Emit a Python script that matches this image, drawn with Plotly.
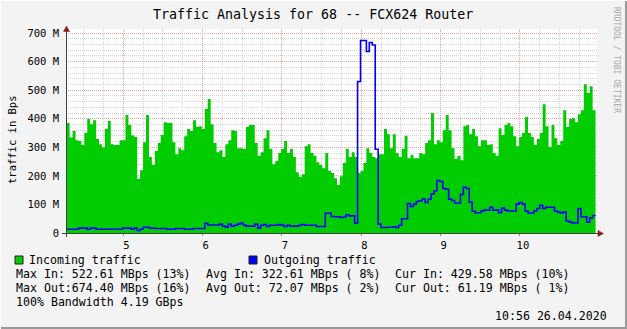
import plotly.graph_objects as go

# ---------------- data ----------------
START = 4.2865          # time of first sample (day units of the axis)
STEP = 1 / 27           # sample step in day units

incoming = [
    385, 334, 357, 325, 322, 308, 350, 399, 381, 395, 329, 311, 299, 364, 392, 311, 308, 308, 325, 325,
    413, 378, 341, 336, 190, 220, 318, 413, 266, 238, 287, 315, 343, 388, 385, 385, 318, 276, 297, 290,
    339, 364, 357, 395, 371, 374, 364,
    434, 469, 381, 315, 283, 290, 266, 311, 325, 360, 357, 297, 297, 294, 371, 378, 378, 315, 270, 283,
    332, 360, 294, 241, 252, 280, 294,
    322, 280, 294, 266, 213, 196, 206, 304, 311, 280, 270, 248, 238, 227, 280, 217, 210, 192, 168, 199,
    245, 294, 266, 283, 266, 210, 217,
    245, 297, 280, 266, 262, 276, 276, 364, 346, 297, 346, 280, 266, 294, 340, 262, 273, 262, 262, 280,
    276, 315, 325, 420, 311, 325, 318,
    360, 413, 360, 297, 259, 270, 255, 374, 378, 346, 364, 339, 304, 325, 325, 308, 311, 280, 270, 367,
    343, 378, 385, 374, 339, 304, 336,
    350, 406, 350, 336, 308, 329, 350, 451, 374, 301, 378, 332, 308, 322, 430, 371, 399, 402, 388, 416,
    430, 521, 490, 514, 430,
]

outgoing = [
    13, 13, 13, 13, 17, 17, 17, 13, 17, 17,
    13, 13, 13, 13, 13, 13, 13, 13, 13, 17,
    17, 17, 13, 17, 9, 13, 20, 20, 17, 17,
    16, 16, 16, 16, 13, 13, 13, 16, 16, 16,
    13, 13, 13, 16, 16, 16, 16, 34, 28, 28,
    28, 28, 31, 24, 20, 31, 24, 27, 31, 35,
    28, 24, 24, 24, 31, 17, 27, 30, 23, 27,
    27, 27, 30, 27, 23, 27, 24, 24, 24, 27,
    30, 27, 27, 27, 27, 23, 23, 23, 69, 69,
    58, 57, 57, 54, 56, 64, 60, 60, 34, 530,
    674, 674, 635, 667, 658, 293, 31, 19, 19, 20,
    20, 22, 19, 27, 50, 50, 103, 93, 101, 110,
    113, 119, 107, 118, 136, 148, 184, 180, 156, 153,
    118, 114, 105, 105, 135, 160, 156, 108, 76, 71,
    71, 77, 80, 80, 90, 80, 80, 71, 87, 80,
    77, 77, 77, 101, 107, 101, 77, 70, 70, 77,
    86, 97, 86, 90, 90, 90, 77, 73, 70, 73,
    42, 38, 35, 35, 86, 57, 57, 38, 53, 61,
]

x_tick_vals = [5, 6, 7, 8, 9, 10]
x_tick_text = ["5", "6", "7", "8", "9", "10"]
y_tick_vals = [0, 100, 200, 300, 400, 500, 600, 700]
y_tick_text = ["0", "100 M", "200 M", "300 M", "400 M", "500 M", "600 M", "700 M"]

title_text = "Traffic Analysis for 68 -- FCX624 Router"
y_title = "traffic in Bps"
legend_labels = ["Incoming traffic", "Outgoing traffic"]
stats_rows = [
    ["Max In: 522.61 MBps (13%)", "Avg In: 322.61 MBps ( 8%)", "Cur In: 429.58 MBps (10%)"],
    ["Max Out:674.40 MBps (16%)", "Avg Out: 72.07 MBps ( 2%)", "Cur Out: 61.19 MBps ( 1%)"],
]
bandwidth_text = "100% Bandwidth 4.19 GBps"
date_text = "10:56 26.04.2020"
watermark = "RRDTOOL / TOBI OETIKER"

# ---------------- geometry / style ----------------
W, H = 627, 329
L, R, T, B = 66, 30, 29, 96
PW, PH = W - L - R, H - T - B
PX_PER_DAY = 79.33
X_LEFT = 5 - (123.3 - L) / PX_PER_DAY
X_RIGHT = X_LEFT + PW / PX_PER_DAY
Y_TOP = 700 * PH / 200.0

FONT = "DejaVu Sans Mono"
GREEN = "#00CC00"
BLUE = "#0000FF"
MAJ = "#E6A0A0"
MIN = "#D4D4D4"
ARROW = "#8B1A1A"


def px(xp):
    return (xp - L) / PW


def py(yp):
    return (H - B - yp) / PH


def esc(s):
    return s.replace(" ", "\u00a0")


n = len(incoming)
xs = [START + i * STEP for i in range(n + 1)]
inc = incoming + [incoming[-1]]
out = outgoing + [outgoing[-1]]

fig = go.Figure()
fig.add_trace(go.Scatter(x=xs, y=inc, mode="lines", line=dict(shape="hv", width=0, color=GREEN),
                         fill="tozeroy", fillcolor=GREEN, hoverinfo="skip"))
fig.add_trace(go.Scatter(x=xs, y=out, mode="lines", line=dict(shape="hv", width=1.6, color=BLUE),
                         hoverinfo="skip"))

shapes = []
# axis lines
shapes.append(dict(type="line", xref="paper", yref="paper", x0=px(66.5), x1=px(66.5), y0=py(237), y1=py(30),
                   line=dict(color="#404040", width=1)))
shapes.append(dict(type="line", xref="paper", yref="paper", x0=px(62), x1=px(599), y0=py(233.5), y1=py(233.5),
                   line=dict(color="#404040", width=1)))
# arrows
shapes.append(dict(type="path", xref="paper", yref="paper",
                   path=f"M {px(63.5)},{py(31.5)} L {px(69.5)},{py(31.5)} L {px(66.5)},{py(26)} Z",
                   fillcolor=ARROW, line=dict(color=ARROW, width=0.5)))
shapes.append(dict(type="path", xref="paper", yref="paper",
                   path=f"M {px(598)},{py(230.5)} L {px(598)},{py(236.5)} L {px(603.5)},{py(233.5)} Z",
                   fillcolor=ARROW, line=dict(color=ARROW, width=0.5)))
# legend boxes
for x0, col in [(15, GREEN), (249, BLUE)]:
    shapes.append(dict(type="rect", xref="paper", yref="paper", x0=px(x0), x1=px(x0 + 8),
                       y0=py(264), y1=py(256), fillcolor=col, line=dict(color="#202020", width=1)))
# frame
shapes.append(dict(type="line", xref="paper", yref="paper", x0=px(0), x1=px(W), y0=py(H - 1), y1=py(H - 1),
                   line=dict(color="#9A9A9A", width=2)))
shapes.append(dict(type="line", xref="paper", yref="paper", x0=px(W - 1), x1=px(W - 1), y0=py(0), y1=py(H),
                   line=dict(color="#9A9A9A", width=2)))
shapes.append(dict(type="line", xref="paper", yref="paper", x0=px(0), x1=px(W), y0=py(0.5), y1=py(0.5),
                   line=dict(color="#FFFFFF", width=1)))
shapes.append(dict(type="line", xref="paper", yref="paper", x0=px(0.5), x1=px(0.5), y0=py(0), y1=py(H),
                   line=dict(color="#FFFFFF", width=1)))

ann = []


def text(x, y, s, size=11.6, xanchor="left", color="#000000", angle=0):
    ann.append(dict(x=px(x), y=py(y), xref="paper", yref="paper", text=esc(s), showarrow=False,
                    xanchor=xanchor, yanchor="middle", textangle=angle,
                    font=dict(family=FONT, size=size, color=color)))


text(313, 14, title_text, size=13.3, xanchor="center")
text(12, 140, y_title, size=10.5, xanchor="center", angle=-90)
text(617, 60, watermark, size=8, xanchor="center", color="#A8A8A8", angle=90)
text(27, 260, legend_labels[0])
text(262, 260, legend_labels[1])
row_y = [274, 288]
col_x = [14, 204, 393]
for yy, row in zip(row_y, stats_rows):
    for xx, s in zip(col_x, row):
        text(xx, yy, s)
text(14, 302, bandwidth_text)
text(609, 316, date_text, xanchor="right")

fig.update_layout(
    width=W, height=H,
    margin=dict(l=L, r=R, t=T, b=B, pad=0),
    paper_bgcolor="#F3F3F3",
    plot_bgcolor="#FFFFFF",
    showlegend=False,
    shapes=shapes,
    annotations=ann,
    xaxis=dict(range=[X_LEFT, X_RIGHT], tickmode="array", tickvals=x_tick_vals, ticktext=x_tick_text,
               showgrid=True, gridcolor=MAJ, griddash="1px,1px", gridwidth=1, zeroline=False, showline=False,
               ticks="outside", ticklen=2, tickcolor="#D07070", ticklabelstandoff=0, ticklabelshift=3,
               tickfont=dict(family=FONT, size=10.5, color="#000000"),
               minor=dict(tickmode="linear", tick0=5, dtick=0.25, showgrid=True, gridcolor=MIN,
                          griddash="1px,1px", gridwidth=1),
               fixedrange=True),
    yaxis=dict(range=[0, Y_TOP], tickmode="array", tickvals=y_tick_vals, ticktext=y_tick_text,
               showgrid=True, gridcolor=MAJ, griddash="1px,1px", gridwidth=1, zeroline=False, showline=False,
               ticks="", ticklabelstandoff=6,
               tickfont=dict(family=FONT, size=10.5, color="#000000"),
               minor=dict(tickmode="linear", tick0=0, dtick=20, showgrid=True, gridcolor=MIN,
                          griddash="1px,1px", gridwidth=1),
               fixedrange=True),
)

fig.write_html("out.html")
